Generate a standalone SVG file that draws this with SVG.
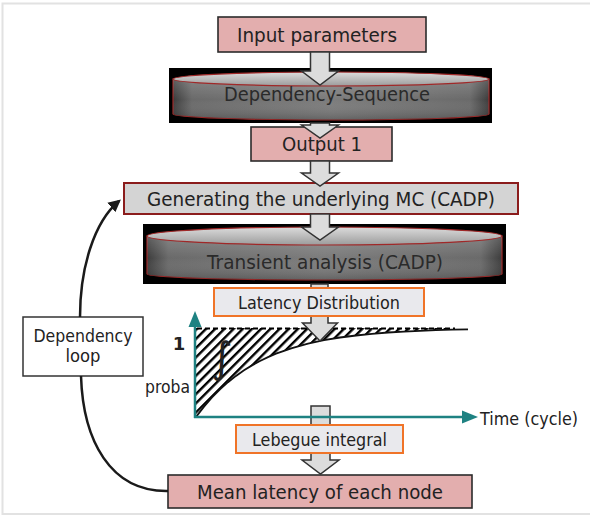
<svg xmlns="http://www.w3.org/2000/svg" width="590" height="516" viewBox="0 0 590 516">
<defs>
  <linearGradient id="cylBody" x1="0" y1="0" x2="1" y2="0">
    <stop offset="0" stop-color="#3c3c3c"/>
    <stop offset="0.06" stop-color="#6a6a6a"/>
    <stop offset="0.5" stop-color="#7c7c7c"/>
    <stop offset="0.94" stop-color="#6a6a6a"/>
    <stop offset="1" stop-color="#3c3c3c"/>
  </linearGradient>
  <linearGradient id="cylShade" x1="0" y1="0" x2="0" y2="1">
    <stop offset="0" stop-color="#ffffff" stop-opacity="0.18"/>
    <stop offset="0.5" stop-color="#ffffff" stop-opacity="0"/>
    <stop offset="1" stop-color="#000000" stop-opacity="0.2"/>
  </linearGradient>
  <linearGradient id="cylTop" x1="0" y1="0" x2="0" y2="1">
    <stop offset="0" stop-color="#dcdcdc"/>
    <stop offset="1" stop-color="#9c9c9c"/>
  </linearGradient>
  <pattern id="hatch" width="6.5" height="20" patternUnits="userSpaceOnUse" patternTransform="rotate(45)">
    <rect x="0" y="0" width="2.4" height="20" fill="#000"/>
  </pattern>
  <marker id="loopHead" viewBox="0 0 10 10" refX="8" refY="5" markerWidth="5" markerHeight="5" orient="auto" markerUnits="strokeWidth">
    <path d="M0,0 L10,5 L0,10 z" fill="#1a1a1a"/>
  </marker>
</defs>
<style>
  .t{font-family:"DejaVu Sans","Liberation Sans",Arial,sans-serif;fill:#222;text-anchor:middle}
  .pink{fill:#e3aeae;stroke:#2b2b2b;stroke-width:1.6}
  .orange{fill:#e9e9ed;stroke:#f07428;stroke-width:2}
  .blk{fill:#dcdcdc;stroke:#333;stroke-width:1.5;stroke-linejoin:miter}
  .rim{stroke:#a02828;stroke-width:1.2}
  .teal{stroke:#1e8282;stroke-width:2.5;fill:none}
  .loop{stroke:#1a1a1a;stroke-width:2.5;fill:none}
</style>

<path d="M590,3.5 H2.5 V514 H590" fill="none" stroke="#e2e2e2" stroke-width="2"/>

<g id="input-parameters">
  <rect class="pink" x="218" y="17" width="208" height="35"/>
  <text class="t" x="317" y="41.5" font-size="20" textLength="160" lengthAdjust="spacingAndGlyphs">Input parameters</text>
</g>

<g id="dependency-sequence">
  <rect x="169" y="68" width="323" height="55" fill="#000"/>
  <path class="rim" d="M173,79 V114 A158,6 0 0 0 489,114 V79 Z" fill="url(#cylBody)"/>
  <path d="M173,79 V114 A158,6 0 0 0 489,114 V79 Z" fill="url(#cylShade)"/>
  <ellipse class="rim" cx="331" cy="79" rx="158" ry="7" fill="url(#cylTop)"/>
  <text class="t" x="327" y="101" font-size="20" style="fill:#2a2a2a" textLength="206" lengthAdjust="spacingAndGlyphs">Dependency-Sequence</text>
</g>

<g id="output-1">
  <rect class="pink" x="251" y="127" width="141" height="34"/>
  <text class="t" x="322" y="151" font-size="20" textLength="80" lengthAdjust="spacingAndGlyphs">Output 1</text>
</g>

<g id="generating-mc">
  <rect x="124" y="183" width="394" height="31" fill="#d4d4d4" stroke="#8b1c1c" stroke-width="2"/>
  <text class="t" x="321" y="206" font-size="20" textLength="348" lengthAdjust="spacingAndGlyphs">Generating the underlying MC (CADP)</text>
</g>

<g id="transient-analysis">
  <rect x="143" y="224" width="363" height="60" fill="#000"/>
  <path class="rim" d="M147,236 V274 A177.5,6 0 0 0 502,274 V236 Z" fill="url(#cylBody)"/>
  <path d="M147,236 V274 A177.5,6 0 0 0 502,274 V236 Z" fill="url(#cylShade)"/>
  <ellipse class="rim" cx="324.5" cy="236" rx="177.5" ry="9" fill="url(#cylTop)"/>
  <text class="t" x="325" y="269" font-size="20" style="fill:#2a2a2a" textLength="236" lengthAdjust="spacingAndGlyphs">Transient analysis (CADP)</text>
</g>

<g id="mean-latency">
  <rect class="pink" x="168" y="475" width="304" height="33"/>
  <text class="t" x="320" y="498.5" font-size="20" textLength="246" lengthAdjust="spacingAndGlyphs">Mean latency of each node</text>
</g>

<g id="dependency-loop">
  <rect x="23" y="317" width="120" height="59" fill="#fff" stroke="#333" stroke-width="1.5"/>
  <text class="t" x="83" y="342" font-size="18" textLength="99" lengthAdjust="spacingAndGlyphs">Dependency</text>
  <text class="t" x="83" y="362" font-size="18" textLength="35" lengthAdjust="spacingAndGlyphs">loop</text>
</g>

<g id="chart">
  <path d="M196,417 L204,406.6 L212,397.4 L220,389.3 L228,382.2 L236,375.9 L244,370.3 L252,365.4 L260,361 L268,357.1 L276,353.7 L284,350.8 L292,348.1 L300,345.8 L308,343.7 L324,340.2 L340,337.5 L356,335.5 L372,333.8 L388,332.5 L404,331.6 L420,330.8 L436,330.2 L452,329.7 L452,328 L196,328 Z" fill="url(#hatch)"/>
  <line x1="197" y1="328.5" x2="455" y2="328.5" stroke="#000" stroke-width="2" stroke-dasharray="5 3"/>
  <path d="M196,417 L204,406.6 L212,397.4 L220,389.3 L228,382.2 L236,375.9 L244,370.3 L252,365.4 L260,361 L268,357.1 L276,353.7 L284,350.8 L292,348.1 L300,345.8 L308,343.7 L324,340.2 L340,337.5 L356,335.5 L372,333.8 L388,332.5 L404,331.6 L420,330.8 L436,330.2 L452,329.7 L468,329.3" fill="none" stroke="#111" stroke-width="1.8"/>
  <text x="222" y="372" font-size="42" font-family="DejaVu Sans, sans-serif" fill="#222" text-anchor="middle">∫</text>
  <text x="179" y="350" font-size="18" font-weight="bold" font-family="DejaVu Sans, Liberation Sans, sans-serif" fill="#222" text-anchor="middle">1</text>
  <text x="145" y="393" font-size="17" font-family="DejaVu Sans, Liberation Sans, sans-serif" fill="#222" textLength="45" lengthAdjust="spacingAndGlyphs">proba</text>
  <text x="480" y="425" font-size="18" font-family="DejaVu Sans, Liberation Sans, sans-serif" fill="#222" textLength="98" lengthAdjust="spacingAndGlyphs">Time (cycle)</text>
</g>

<g id="connectors">
  <path class="blk" d="M310.5,52 H329.5 V71 H338.5 L320,85 L301.5,71 H310.5 Z"/>
  <path class="blk" d="M310.5,123 H329.5 V125 H338.5 L320,138 L301.5,125 H310.5 Z"/>
  <path class="blk" d="M310.5,161 H329.5 V173 H338.5 L320,186 L301.5,173 H310.5 Z"/>
  <path class="blk" d="M310.5,214 H329.5 V227 H338.5 L320,240 L301.5,227 H310.5 Z"/>
  <path class="blk" d="M311,284 H328 V323 H337.5 L320,341 L302.5,323 H311 Z"/>
  <path class="blk" d="M311,406 H330 V460 H339 L320.5,474 L302,460 H311 Z"/>
  <path class="loop" d="M80,317 C80,268 94,222 119,201" marker-end="url(#loopHead)"/>
  <path class="loop" d="M81,376 C83,440 110,492 168,491"/>
</g>

<g id="axes">
  <line class="teal" x1="195" y1="418" x2="195" y2="324"/>
  <polygon points="195,311 188.5,327 201.5,327" fill="#1e8282"/>
  <line class="teal" x1="194" y1="417" x2="464" y2="417"/>
  <polygon points="478,417 462,410.5 462,423.5" fill="#1e8282"/>
</g>

<g id="latency-distribution">
  <rect class="orange" x="214" y="288" width="210" height="28"/>
  <text class="t" x="319" y="308.5" font-size="18" textLength="162" lengthAdjust="spacingAndGlyphs">Latency Distribution</text>
</g>

<g id="lebegue-integral">
  <rect class="orange" x="236" y="425" width="167" height="28"/>
  <text class="t" x="319.5" y="445.5" font-size="18" textLength="135" lengthAdjust="spacingAndGlyphs">Lebegue integral</text>
</g>
</svg>
